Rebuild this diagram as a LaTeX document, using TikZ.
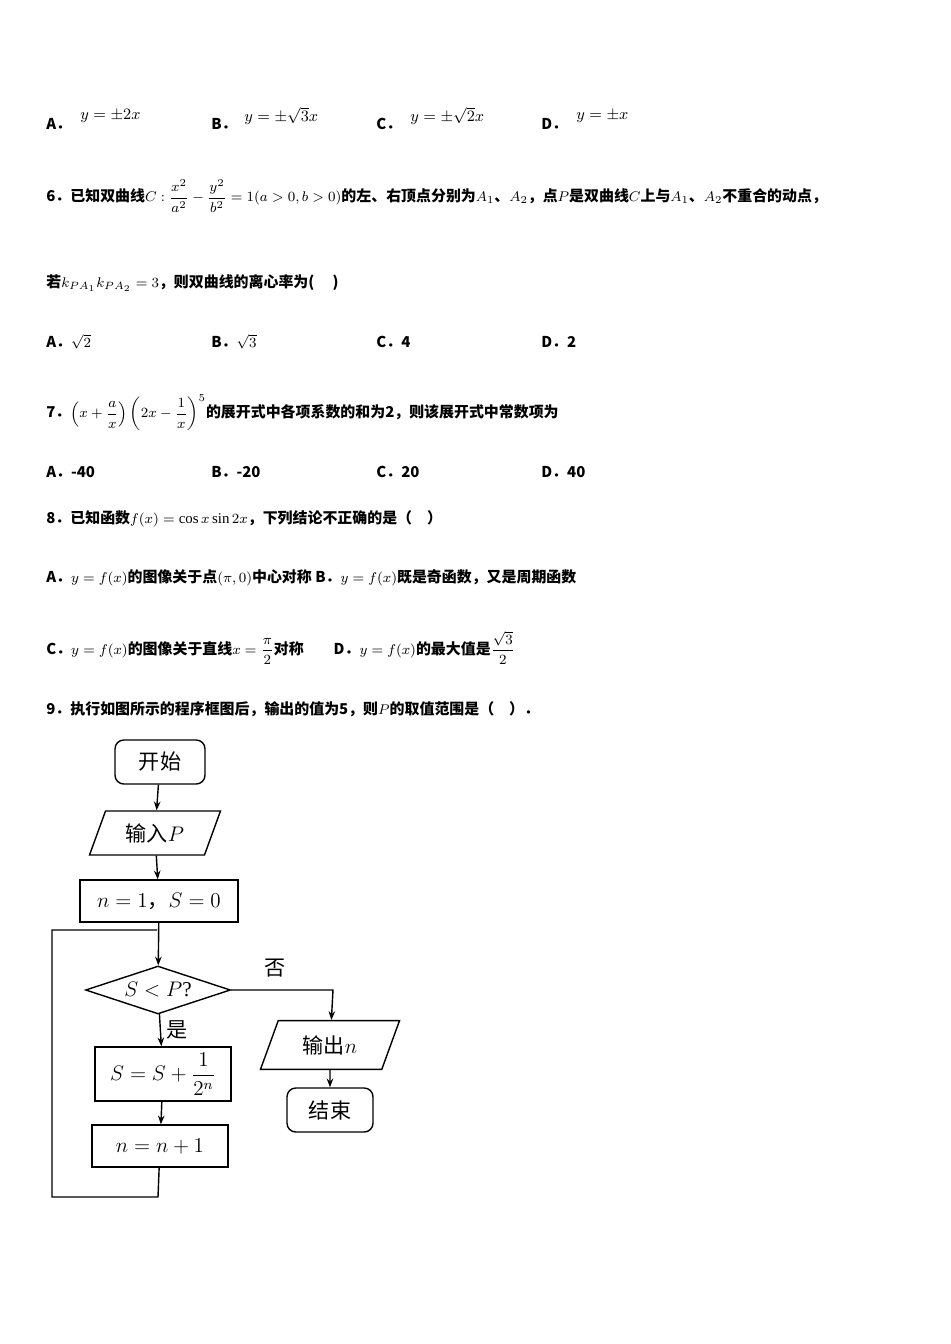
\documentclass[tikz,border=0pt]{standalone}
\usepackage{amsmath}
\usepackage{fontspec}
\setmainfont{Liberation Serif}
\newfontfamily\cjk{Noto Sans CJK SC}
\usetikzlibrary{shapes.geometric,arrows.meta}
\tikzset{%
  q/.style={anchor=west,inner sep=0pt,font=\fontsize{8.5}{10}\selectfont\bfseries\cjk},
  fm/.style={anchor=west,inner sep=0pt,font=\fontsize{9}{10}\selectfont},
  box/.style={draw,thick,minimum width=#1,minimum height=0.84cm,font=\fontsize{12}{14}\selectfont},
  rbox/.style={draw,thick,rounded corners=5pt,minimum width=#1,minimum height=0.88cm,font=\fontsize{12}{14}\selectfont\cjk},
  io/.style={draw,thick,trapezium,trapezium left angle=70,trapezium right angle=110,minimum width=#1,minimum height=0.88cm,font=\fontsize{12}{14}\selectfont\cjk},
  ar/.style={thick,-{Stealth[length=5pt]}},
}
\begin{document}
\begin{tikzpicture}[x=0.02cm,y=-0.02cm]
\useasboundingbox[fill=white] (0,0) rectangle (950,1344);
% options of question 5
\node[q] (a5) at (46,124) {A．};  \node[fm] at (80,116) {$y=\pm2x$};
\node[q] (b5) at (211,124) {B．}; \node[fm] at (244,116) {$y=\pm\sqrt{3}x$};
\node[q] (c5) at (376,124) {C．}; \node[fm] at (410,116) {$y=\pm\sqrt{2}x$};
\node[q] (d5) at (541,124) {D．}; \node[fm] at (576,116) {$y=\pm x$};
% question 6
\node[q] (q6) at (46,196) {6．已知双曲线$C:\dfrac{x^2}{a^2}-\dfrac{y^2}{b^2}=1(a>0,b>0)$的左、右顶点分别为$A_1$、$A_2$，点$P$是双曲线$C$上与$A_1$、$A_2$不重合的动点，};
\node[q] (q6b) at (46,283) {若$k_{PA_1}k_{PA_2}=3$，则双曲线的离心率为(\quad\ )};
\node[q] at (46,342) {A．$\sqrt{2}$};
\node[q] at (211,342) {B．$\sqrt{3}$};
\node[q] at (376,342) {C．4};
\node[q] at (541,342) {D．2};
% question 7
\node[q] (q7) at (46,413) {7．$\left(x+\dfrac{a}{x}\right)\left(2x-\dfrac{1}{x}\right)^5$的展开式中各项系数的和为2，则该展开式中常数项为};
\node[q] at (46,472) {A．-40};
\node[q] at (211,472) {B．-20};
\node[q] at (376,472) {C．20};
\node[q] at (541,472) {D．40};
% question 8
\node[q] (q8) at (46,519) {8．已知函数$f(x)=\cos x\sin 2x$，下列结论不正确的是（\quad）};
\node[q] at (46,578) {A．$y=f(x)$的图像关于点$(\pi,0)$中心对称 B．$y=f(x)$既是奇函数，又是周期函数};
\node[q] at (46,648) {C．$y=f(x)$的图像关于直线$x=\dfrac{\pi}{2}$对称\qquad D．$y=f(x)$的最大值是$\dfrac{\sqrt{3}}{2}$};
% question 9
\node[q] (q9) at (46,709) {9．执行如图所示的程序框图后，输出的值为5，则$P$的取值范围是（\quad）．};
% flowchart
\node[rbox=1.8cm] (start) at (160,762) {开始};
\node[io=2.6cm] (input) at (155,833) {输入$P$};
\node[box=3.16cm] (init) at (159,901) {$n=1${\cjk ，}$S=0$};
\coordinate (join) at (157,930);
\node[draw,thick,diamond,aspect=2.4,minimum width=2.9cm,inner sep=1pt,font=\fontsize{12}{14}\selectfont] (cond) at (158,990) {$S<P$?};
\node[box=2.72cm,minimum height=1.04cm] (sum) at (163,1074) {$S=S+\dfrac{1}{2^n}$};
\node[box=2.72cm] (inc) at (160,1146) {$n=n+1$};
\node[io=2.8cm] (out) at (330,1045) {输出$n$};
\node[rbox=1.72cm] (stop) at (330,1110) {结束};
\coordinate (c1) at (333,990);
\coordinate (l1) at (158,1197);
\coordinate (l2) at (52,1197);
\coordinate (l3) at (52,930);
\draw[ar] (start) -- (input);
\draw[ar] (input) -- (init);
\draw[ar] (init) -- (cond);
\draw[ar] (cond) -- node[right,font=\fontsize{12}{14}\selectfont\cjk] {是} (sum);
\draw[ar] (sum) -- (inc);
\draw[ar] (cond.east) -- (c1) -- (out);
\node[font=\fontsize{12}{14}\selectfont\cjk] at (275,968) {否};
\draw[ar] (out) -- (stop);
\draw[thick] (inc) -- (l1) -- (l2) -- (l3) -- (join);
\end{tikzpicture}
\end{document}
